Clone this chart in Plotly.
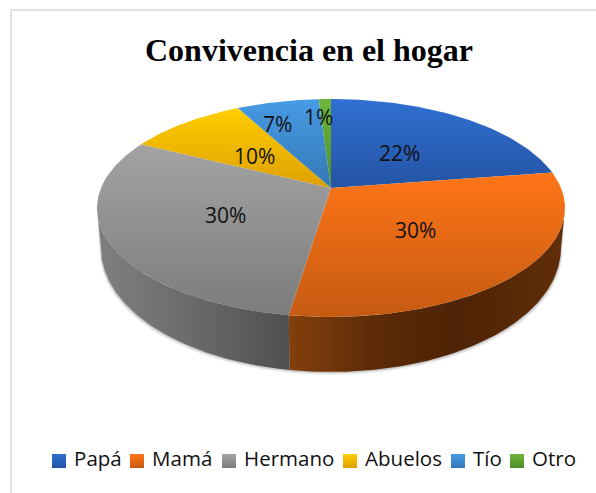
import numpy as np
import plotly.graph_objects as go

categories = ["Papá", "Mamá", "Hermano", "Abuelos", "Tío", "Otro"]
values = [22.6, 29.8, 30.0, 9.8, 6.8, 1.0]
labels = ["22%", "30%", "30%", "10%", "7%", "1%"]
top_light = ["#3070D2", "#FF7518", "#A3A3A3", "#FFCE00", "#479BE6", "#6DB63A"]
top_dark = ["#2454A4", "#C55A11", "#7C7C7C", "#DDA000", "#3578B5", "#4F8C28"]

CX, CY, B, A, K = 331.0, 188.0, 230.0, 105.3, 0.1835
SCALE, WALL_SIDE, WALL_FRONT = 0.983, 36.0, 19.0
label_dx = [-2, -2, 1, 1, -25, -9]
label_dy = [2, 2, 2, 3, -17, -23]
legend_anchor = [59, 137, 229, 350, 458, 517]
LEGEND_Y = 461


def project(t, r=1.0):
    w = 1 + K * r * np.cos(t)
    return CX + B * r * np.sin(t) / w, CY - A * r * np.cos(t) / w


def base(t):
    x, y = project(t)
    return CX + (x - CX) * SCALE, y + WALL_SIDE - WALL_FRONT * np.cos(t)


fracs = np.cumsum([0] + values) / sum(values)
angles = 2 * np.pi * fracs
fig = go.Figure()

# the disc is widest here, so the wall's outline runs straight down from these angles
t_right = np.pi / 2 + np.arcsin(K)
t_left = 3 * np.pi / 2 - np.arcsin(K)
t_split = angles[2]

# soft shadow under the wall
tt = np.linspace(t_right, t_left, 200)
for grow, op in [(3.0, 0.07), (2.0, 0.12), (1.0, 0.2)]:
    bx, by = base(tt)
    xt, yt = project(tt)
    fig.add_trace(go.Scatter(
        x=np.concatenate([xt, (np.where(bx > CX, bx + grow * 0.6, bx - grow * 0.6))[::-1]]),
        y=np.concatenate([yt, (by + grow)[::-1]]),
        mode="lines", fill="toself", fillcolor=f"rgba(90,90,90,{op})",
        line=dict(width=0), hoverinfo="skip", showlegend=False))

# side wall, split where the slice edge crosses the front
for t0, t1, stops in [
    (t_right, t_split, [[0, "#83400C"], [0.3, "#5E2B07"], [0.6, "#4E2306"], [1, "#612E08"]]),
    (t_split, t_left, [[0, "#808080"], [0.5, "#6A6A6A"], [1, "#4F4F4F"]]),
]:
    t = np.linspace(t0, t1, 120)
    xt, yt = project(t)
    xb, yb = base(t)
    fig.add_trace(go.Scatter(
        x=np.concatenate([xt, xb[::-1]]), y=np.concatenate([yt, yb[::-1]]),
        mode="lines", line=dict(width=0), fill="toself",
        fillgradient=dict(type="horizontal", colorscale=stops),
        hoverinfo="skip", showlegend=False))

# top faces
for i, name in enumerate(categories):
    t = np.linspace(angles[i], angles[i + 1], max(3, int(values[i] * 4)))
    xt, yt = project(t)
    fig.add_trace(go.Scatter(
        x=np.concatenate([[CX], xt, [CX]]), y=np.concatenate([[CY], yt, [CY]]),
        mode="lines", line=dict(width=0), fill="toself",
        fillgradient=dict(type="vertical",
                          colorscale=[[0, top_dark[i]], [1, top_light[i]]]),
        hoverinfo="skip", showlegend=False))

# slice labels
mid = (angles[:-1] + angles[1:]) / 2
lx, ly = project(mid, 0.5)
for x, y, s, dx, dy in zip(lx, ly, labels, label_dx, label_dy):
    fig.add_annotation(x=x + dx, y=y + dy, text=s, showarrow=False,
                       font=dict(family="Open Sans", size=21, color="#111111"))

# legend entries
for i, name in enumerate(categories):
    fig.add_trace(go.Scatter(
        x=[legend_anchor[i]], y=[LEGEND_Y], name=name, mode="markers+text",
        text=["\u00a0" + name], textposition="middle right",
        textfont=dict(family="Open Sans", size=20.5, color="#111111"),
        marker=dict(symbol="square", size=14, color=top_light[i],
                    gradient=dict(type="vertical", color=top_dark[i]),
                    line=dict(width=0)),
        showlegend=False, hoverinfo="skip"))

fig.add_annotation(x=308.5, y=50, text="<b>Convivencia en el hogar</b>", showarrow=False,
                   font=dict(family="Liberation Serif", size=32, color="#000000"))

fig.add_shape(type="line", x0=10, x1=596, y0=10, y1=10, line=dict(color="#DFE4EC", width=2))
fig.add_shape(type="line", x0=11, x1=11, y0=9, y1=493, line=dict(color="#DFE4EC", width=2))

fig.update_layout(
    width=596, height=493, autosize=False,
    margin=dict(l=0, r=0, t=0, b=0),
    paper_bgcolor="white", plot_bgcolor="white",
    xaxis=dict(range=[0, 596], visible=False, fixedrange=True),
    yaxis=dict(range=[493, 0], visible=False, fixedrange=True),
    showlegend=False,
)
fig.write_html("out.html", config=dict(displayModeBar=False),
               post_script="document.body.style.margin='0';document.body.style.overflow='hidden';")
